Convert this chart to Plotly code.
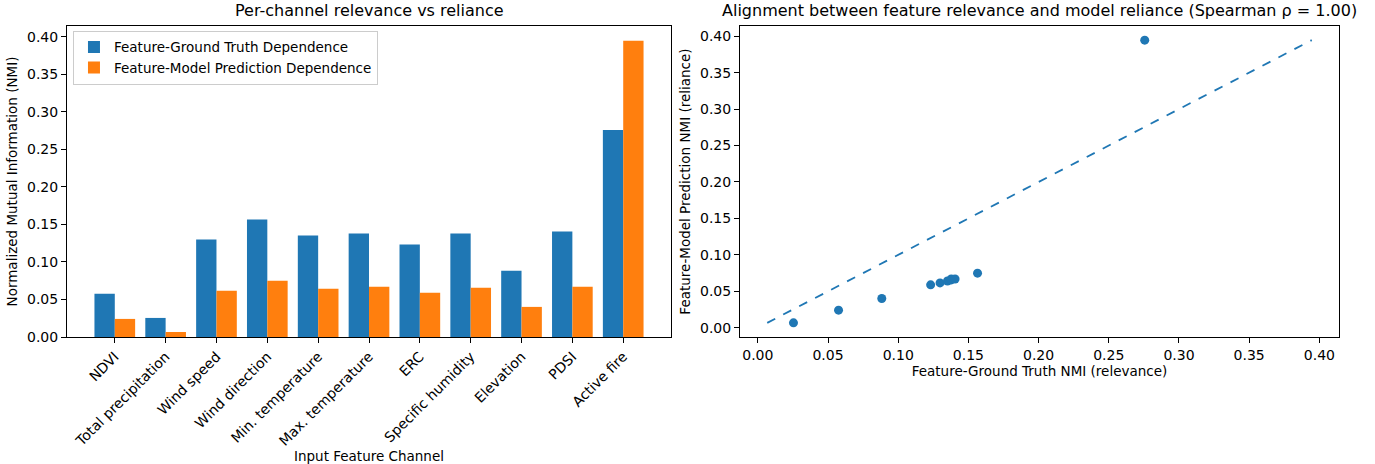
import plotly.graph_objects as go
from plotly.subplots import make_subplots

channels = ["NDVI", "Total precipitation", "Wind speed", "Wind direction",
            "Min. temperature", "Max. temperature", "ERC", "Specific humidity",
            "Elevation", "PDSI", "Active fire"]
gt_nmi = [0.0575, 0.0254, 0.1298, 0.1565, 0.1351, 0.1378, 0.1231, 0.1378, 0.0883, 0.1405, 0.2756]
model_nmi = [0.0241, 0.0067, 0.0615, 0.0749, 0.0642, 0.0669, 0.0589, 0.0656, 0.0401, 0.0669, 0.3946]

BLUE = "#1f77b4"
ORANGE = "#ff7f0e"
FONT = "DejaVu Sans"
W, H = 1375, 464
L, R, T, B = 67, 36, 26, 127

fig = make_subplots(rows=1, cols=2)

fig.add_trace(go.Bar(x=list(range(len(channels))), y=gt_nmi, name="Feature-Ground Truth Dependence",
                     marker=dict(color=BLUE, line=dict(width=0))), row=1, col=1)
fig.add_trace(go.Bar(x=list(range(len(channels))), y=model_nmi, name="Feature-Model Prediction Dependence",
                     marker=dict(color=ORANGE, line=dict(width=0))), row=1, col=1)

fig.add_trace(go.Scatter(x=gt_nmi, y=model_nmi, mode="markers", showlegend=False,
                         marker=dict(color=BLUE, size=9)), row=1, col=2)
lo = min(min(gt_nmi), min(model_nmi))
hi = max(max(gt_nmi), max(model_nmi))
fig.add_trace(go.Scatter(x=[lo, hi], y=[lo, hi], mode="lines", showlegend=False,
                         line=dict(color=BLUE, dash="dash", width=1.8)), row=1, col=2)

pw = W - L - R
axis_common = dict(showline=True, mirror=True, linecolor="black", linewidth=1,
                   ticks="outside", ticklen=5, tickcolor="black", showgrid=False, zeroline=False,
                   tickfont=dict(family=FONT, size=14, color="black"))

fig.update_layout(
    width=W, height=H,
    margin=dict(l=L, r=R, t=T, b=B, autoexpand=False),
    plot_bgcolor="white", paper_bgcolor="white",
    barmode="group", bargap=0.2, bargroupgap=0,
    font=dict(family=FONT, size=13.5, color="black"),
    legend=dict(x=0.0047, y=0.985, xanchor="left", yanchor="top",
                bgcolor="rgba(255,255,255,0.85)", bordercolor="#cccccc", borderwidth=1,
                font=dict(family=FONT, size=13.5), tracegroupgap=2),
    xaxis=dict(domain=[0, (671 - L) / pw], range=[-0.94, 10.94],
               tickmode="array", tickvals=list(range(len(channels))), ticktext=channels,
               tickangle=-45, automargin=False,
               title=dict(text="Input Feature Channel", font=dict(family=FONT, size=13.5), standoff=0),
               **axis_common),
    yaxis=dict(range=[0, 0.4143], tickformat=".2f", dtick=0.05, automargin=False,
               title=dict(text="Normalized Mutual Information (NMI)", font=dict(family=FONT, size=13.5), standoff=6),
               **axis_common),
    xaxis2=dict(domain=[(740 - L) / pw, 1], range=[-0.0127, 0.414], tickformat=".2f", dtick=0.05,
                automargin=False,
                title=dict(text="Feature-Ground Truth NMI (relevance)", font=dict(family=FONT, size=13.5), standoff=4),
                **axis_common),
    yaxis2=dict(range=[-0.0127, 0.414], tickformat=".2f", dtick=0.05, automargin=False,
                title=dict(text="Feature-Model Prediction NMI (reliance)", font=dict(family=FONT, size=13.5), standoff=6),
                **axis_common),
    annotations=[
        dict(text="Per-channel relevance vs reliance", xref="paper", yref="paper",
             x=(671 - L) / pw / 2, y=1, yshift=4, xanchor="center", yanchor="bottom", showarrow=False,
             font=dict(family=FONT, size=16, color="black")),
        dict(text="Alignment between feature relevance and model reliance (Spearman ρ = 1.00)",
             xref="paper", yref="paper",
             x=((740 - L) / pw + 1) / 2, y=1, yshift=4, xanchor="center", yanchor="bottom", showarrow=False,
             font=dict(family=FONT, size=16, color="black")),
    ],
)

fig.write_html("out.html")
